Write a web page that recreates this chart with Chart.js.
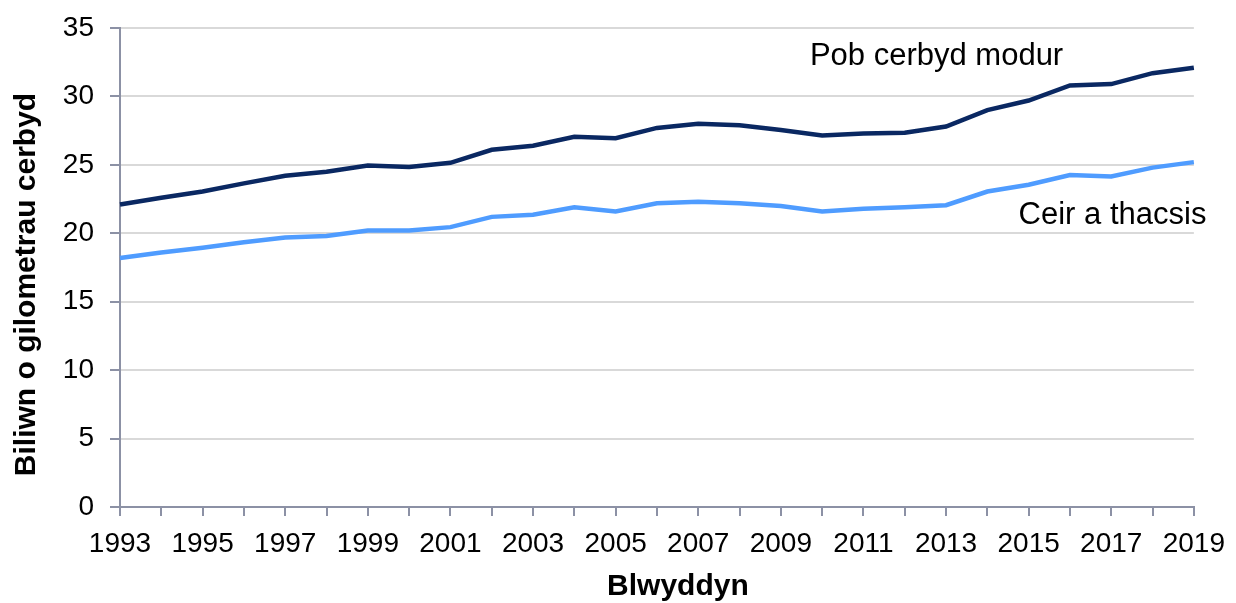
<!DOCTYPE html>
<html>
<head>
<meta charset="utf-8">
<script src="https://cdn.jsdelivr.net/npm/chart.js@4/dist/chart.umd.min.js"></script>
<style>
  html, body { margin: 0; padding: 0; background: #fff; }
  #wrap { width: 1236px; height: 603px; }
</style>
</head>
<body>
<div id="wrap"><canvas id="canvas" width="1236" height="603"></canvas></div>
<script>
// blynyddoedd (x axis)
let blynyddoedd = [];
for (let y = 1993; y <= 2019; y++) blynyddoedd.push(String(y));

// Pob cerbyd modur (biliwn km)
let pob_cerbyd = [22.1, 22.6, 23.05, 23.65, 24.2, 24.5, 24.95, 24.85, 25.15, 26.1, 26.4, 27.05, 26.95,
  27.7, 28.0, 27.9, 27.55, 27.15, 27.3, 27.35, 27.8, 29.0, 29.7, 30.8, 30.9, 31.7, 32.1];

// Ceir a thacsis (biliwn km)
let ceir_tacsis = [18.2, 18.6, 18.95, 19.35, 19.7, 19.8, 20.2, 20.2, 20.45, 21.2, 21.35, 21.9, 21.6,
  22.2, 22.3, 22.2, 22.0, 21.6, 21.8, 21.9, 22.05, 23.05, 23.55, 24.25, 24.15, 24.8, 25.2];

let y_ticks = [0, 5, 10, 15, 20, 25, 30, 35];

let enwau = ['Pob cerbyd modur', 'Ceir a thacsis'];
let teitl_y = 'Biliwn o gilometrau cerbyd';
let teitl_x = 'Blwyddyn';

let lliw_echel = '#8c91a5';
let ffont = "'Liberation Sans', Arial, sans-serif";

// labels on the lines + axis titles
let labelsPlugin = {
  id: 'labelsPlugin',
  afterDraw(chart) {
    let ctx = chart.ctx;
    let xs = chart.scales.x;
    let ys = chart.scales.y;
    let area = chart.chartArea;
    ctx.save();
    ctx.fillStyle = '#000';
    ctx.textAlign = 'center';
    ctx.textBaseline = 'middle';
    ctx.font = '31px ' + ffont;
    ctx.fillText(enwau[0], xs.getPixelForValue(19.77), ys.getPixelForValue(32.95));
    ctx.fillText(enwau[1], xs.getPixelForValue(24.03), ys.getPixelForValue(21.3));

    ctx.font = 'bold 30px ' + ffont;
    ctx.fillText(teitl_x, (area.left + area.right) / 2 + 21, 587);

    ctx.font = 'bold 30px ' + ffont;
    ctx.translate(27, (area.top + area.bottom) / 2 + 17);
    ctx.rotate(-Math.PI / 2);
    ctx.fillText(teitl_y, 0, 0);
    ctx.restore();
  }
};

let configuracao = {
  type: 'line',
  data: {
    labels: blynyddoedd,
    datasets: [{
      label: enwau[0],
      data: pob_cerbyd,
      borderColor: '#0a2862',
      backgroundColor: '#0a2862',
      borderWidth: 4.5,
      pointRadius: 0,
      tension: 0
    }, {
      label: enwau[1],
      data: ceir_tacsis,
      borderColor: '#4f9cff',
      backgroundColor: '#4f9cff',
      borderWidth: 4.5,
      pointRadius: 0,
      tension: 0
    }]
  },
  options: {
    responsive: false,
    animation: false,
    layout: { padding: { top: 28, right: 36, left: 0, bottom: 0 } },
    plugins: {
      legend: { display: false },
      tooltip: { enabled: false }
    },
    scales: {
      x: {
        type: 'category',
        offset: false,
        border: { color: lliw_echel, width: 2 },
        grid: { drawOnChartArea: false, drawTicks: true, tickLength: 9, tickColor: lliw_echel, lineWidth: 2 },
        ticks: {
          autoSkip: false,
          maxRotation: 0,
          color: '#000',
          padding: 11,
          font: { family: ffont, size: 28 },
          callback: function(val, i) { return i % 2 === 0 ? blynyddoedd[i] : ''; }
        },
        afterFit: function(axis) { axis.height = 96; }
      },
      y: {
        min: 0,
        max: 35,
        border: { color: lliw_echel, width: 2 },
        grid: { color: '#d9d9d9', lineWidth: 2, tickLength: 10, tickColor: lliw_echel },
        afterBuildTicks: function(axis) { axis.ticks = y_ticks.map(v => ({ value: v })); },
        ticks: {
          color: '#000',
          padding: 16,
          font: { family: ffont, size: 28 }
        },
        afterFit: function(axis) {
          axis.width = 120;
          axis.paddingTop = 0;
          axis.paddingBottom = 0;
        }
      }
    }
  },
  plugins: [labelsPlugin]
};

let chart = new Chart(document.getElementById('canvas'), configuracao);
</script>
</body>
</html>
